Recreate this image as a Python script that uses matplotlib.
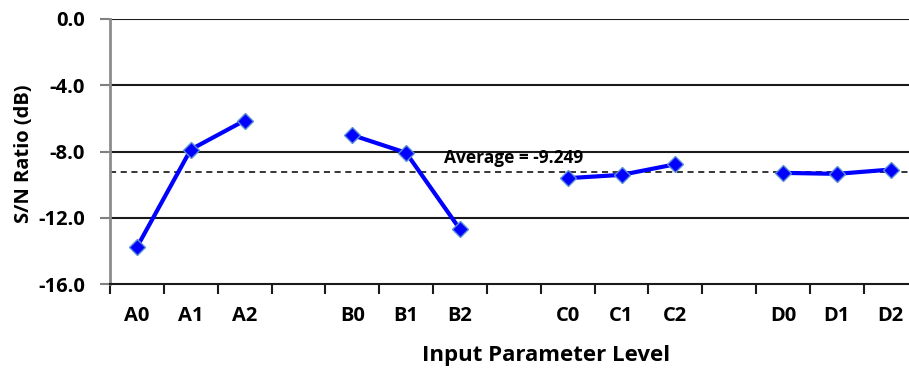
import numpy as np
import matplotlib
matplotlib.use('Agg')
import matplotlib.pyplot as plt

plt.rcParams['font.family'] = ['Open Sans', 'DejaVu Sans']
plt.rcParams['font.weight'] = 'bold'

# S/N ratio (dB) for each input parameter level
levels_a = ['A0', 'A1', 'A2']
levels_b = ['B0', 'B1', 'B2']
levels_c = ['C0', 'C1', 'C2']
levels_d = ['D0', 'D1', 'D2']
sn_a = [-13.78, -7.88, -6.13]
sn_b = [-7.01, -8.08, -12.70]
sn_c = [-9.61, -9.41, -8.77]
sn_d = [-9.29, -9.35, -9.09]
average = -9.249

# build one category axis with an empty slot between factors
labels = levels_a + [''] + levels_b + [''] + levels_c + [''] + levels_d
values = sn_a + [np.nan] + sn_b + [np.nan] + sn_c + [np.nan] + sn_d
x = np.arange(len(labels))

fig = plt.figure(figsize=(9.09, 3.69), dpi=100)
ax = fig.add_axes([110 / 909, 85 / 369, 807.7 / 909, 265 / 369])

# gridlines
for yv in [0, -4, -8, -12]:
    ax.axhline(yv, color='#1a1a1a', lw=1.5, zorder=1)

ax.axhline(average, color='black', lw=1.1, ls=(0, (4, 3)), zorder=2)
ax.text(7, average + 0.3, 'Average = %.3f' % average, ha='center', va='bottom',
        fontsize=12.5, fontweight='bold')

ax.plot(x, values, color='#0000ff', lw=3, marker='D', markersize=8,
        markerfacecolor='#0000ff', markeredgecolor='#5b8fd6', markeredgewidth=1,
        zorder=3)

ax.set_xlim(-0.5, len(labels) - 0.5)
ax.set_ylim(-16, 0)
ax.set_yticks([0, -4, -8, -12, -16])
ax.set_yticklabels(['%.1f' % v for v in [0, -4, -8, -12, -16]], fontsize=14.5,
                   fontweight='bold')
ax.tick_params(axis='y', direction='out', length=7, width=1.5, color='#808080',
               pad=11)

ax.set_xticks(np.arange(len(labels) + 1) - 0.5)
ax.set_xticklabels([])
ax.set_xticks(x, minor=True)
ax.set_xticklabels(labels, minor=True, fontsize=14.5, fontweight='bold')
ax.tick_params(axis='x', which='major', direction='out', length=7, width=1.5,
               color='#1a1a1a')
ax.tick_params(axis='x', which='minor', length=0, pad=16)

for s in ['top', 'right']:
    ax.spines[s].set_visible(False)
ax.spines['left'].set_color('#8c8c8c')
ax.spines['left'].set_linewidth(2)
ax.spines['bottom'].set_color('#1a1a1a')
ax.spines['bottom'].set_linewidth(1.5)

ax.set_ylabel('S/N Ratio (dB)', fontsize=14.5, fontweight='bold')
ax.yaxis.set_label_coords(-0.094, 0.49)
fig.text(546 / 909, 1 - 355 / 369, 'Input Parameter Level', ha='center',
         va='center', fontsize=16, fontweight='bold')

fig.savefig('out.png', dpi=100)
